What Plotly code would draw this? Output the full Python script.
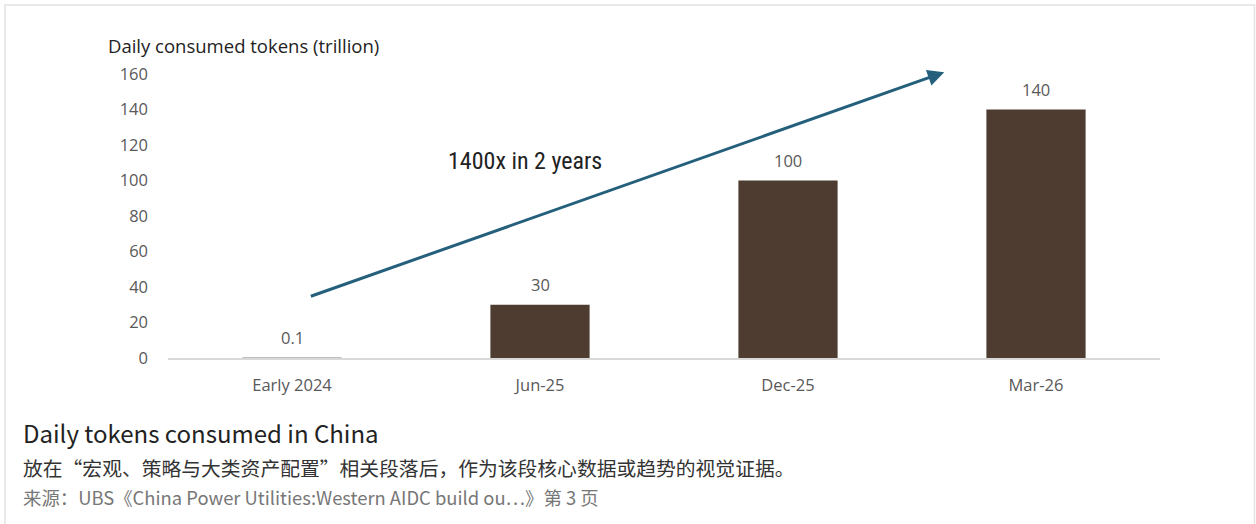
import plotly.graph_objects as go

categories = ["Early 2024", "Jun-25", "Dec-25", "Mar-26"]
values = [0.1, 30, 100, 140]
value_labels = ["0.1", "30", "100", "140"]
bar_colors = ["#bdbdbd", "#4d3c2f", "#4d3c2f", "#4d3c2f"]
y_ticks = [0, 20, 40, 60, 80, 100, 120, 140, 160]

W, H = 1256, 524
def px_x(p):
    return p / W
def px_y(p):
    return (H - p) / H

LBL = dict(family="Open Sans, Arial", size=16.5, color="#595959")

fig = go.Figure()
fig.add_trace(go.Bar(
    x=categories, y=values,
    marker=dict(color=bar_colors, line=dict(width=0)),
    width=0.4,
    hoverinfo="skip",
))

annotations = []
for c, v, t in zip(categories, values, value_labels):
    annotations.append(dict(x=c, y=v, xref="x", yref="y", text=t, showarrow=False,
                            yanchor="middle", yshift=20, font=LBL))

# trend arrow
annotations.append(dict(x=2.63, y=161, ax=0.07, ay=34.5, xref="x", yref="y", axref="x", ayref="y",
                        text="", showarrow=True, arrowhead=2, arrowsize=1.1, arrowwidth=3,
                        arrowcolor="#245f7c"))
annotations.append(dict(x=0.94, y=111, xref="x", yref="y", text="1400x in 2 years", showarrow=False,
                        xanchor="center", yanchor="middle",
                        font=dict(family="Liberation Sans Narrow, Arial Narrow, Roboto Condensed, Arial", size=24, color="#222222")))

# axis title
annotations.append(dict(x=px_x(106), y=px_y(46), xref="paper", yref="paper", xanchor="left", yanchor="middle",
                        text="Daily consumed tokens (trillion)", showarrow=False,
                        font=dict(family="Open Sans, Arial", size=18.5, color="#222222")))

# captions
annotations.append(dict(x=px_x(21), y=px_y(432), xref="paper", yref="paper", xanchor="left", yanchor="middle",
                        text="Daily tokens consumed in China", showarrow=False,
                        font=dict(family="Noto Sans CJK SC", size=24, color="#222222")))
annotations.append(dict(x=px_x(21), y=px_y(467), xref="paper", yref="paper", xanchor="left", yanchor="middle",
                        text="放在“宏观、策略与大类资产配置”相关段落后，作为该段核心数据或趋势的视觉证据。", showarrow=False,
                        font=dict(family="Noto Sans CJK SC", size=19.8, color="#333333")))
annotations.append(dict(x=px_x(21), y=px_y(497), xref="paper", yref="paper", xanchor="left", yanchor="middle",
                        text="来源：UBS《China Power Utilities:Western AIDC build ou…》第 3 页", showarrow=False,
                        font=dict(family="Noto Sans CJK SC", size=18.4, color="#777777")))

fig.update_layout(
    width=W, height=H,
    margin=dict(l=0, r=0, t=0, b=0, pad=0, autoexpand=False),
    paper_bgcolor="white", plot_bgcolor="white",
    showlegend=False,
    bargap=0.6,
    annotations=annotations,
    shapes=[dict(type="rect", xref="paper", yref="paper",
                 x0=px_x(5), x1=px_x(1254.5), y0=-0.2, y1=px_y(5),
                 line=dict(color="#e2e2e2", width=1.5), fillcolor="rgba(0,0,0,0)", layer="below")],
    xaxis=dict(domain=[px_x(168), px_x(1160)], showgrid=False, zeroline=False,
               showline=True, linecolor="#d9d9d9", linewidth=1.5,
               ticks="", ticklabelstandoff=11, automargin=False,
               tickfont=LBL, fixedrange=True),
    yaxis=dict(domain=[px_y(358), px_y(74)], range=[0, 160], tickvals=y_ticks,
               showgrid=False, zeroline=False, showline=False, ticks="",
               ticklabelstandoff=19, automargin=False,
               tickfont=LBL, fixedrange=True),
)

fig.write_html("out.html", config={"displayModeBar": False})
